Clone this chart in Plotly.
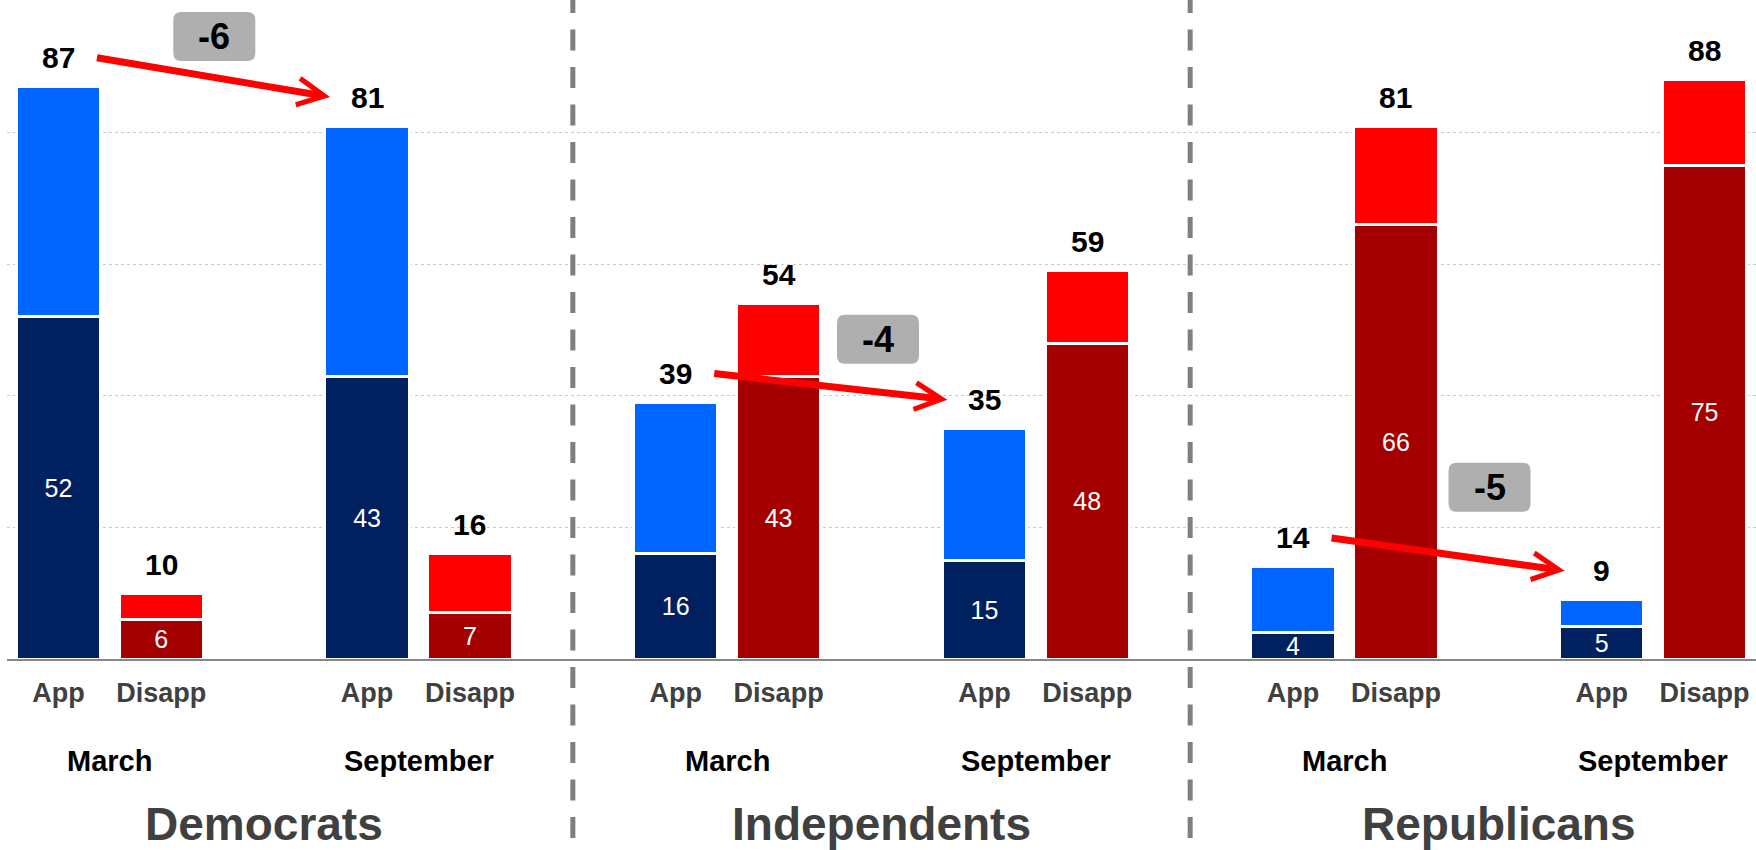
import plotly.graph_objects as go

# ---------------- data ----------------
parties = ["Democrats", "Independents", "Republicans"]
months = ["March", "September"]
responses = ["App", "Disapp"]

# order inside each party: March App, March Disapp, September App, September Disapp
dem_total = [87, 10, 81, 16]
dem_strong = [52, 6, 43, 7]
ind_total = [39, 54, 35, 59]
ind_strong = [16, 43, 15, 48]
rep_total = [14, 81, 9, 88]
rep_strong = [4, 66, 5, 75]

totals = [dem_total, ind_total, rep_total]
strongs = [dem_strong, ind_strong, rep_strong]

# ---------------- style ----------------
FONT = "Liberation Sans, Arial, sans-serif"
DARK = {"App": "#002060", "Disapp": "#A50000"}
LIGHT = {"App": "#0066FF", "Disapp": "#FF0000"}
GREY_TXT = "#404040"
PLOT_H = 658
LABEL_SHIFT = 29

xs, tot, strong, rest, dcol, lcol, ticktext = [], [], [], [], [], [], []
for g in range(len(parties)):
    for m in range(len(months)):
        for r, resp in enumerate(responses):
            i = m * 2 + r
            xs.append(g * 6 + m * 3 + r)
            tot.append(totals[g][i])
            strong.append(strongs[g][i])
            rest.append(totals[g][i] - strongs[g][i])
            dcol.append(DARK[resp])
            lcol.append(LIGHT[resp])
            ticktext.append(resp)

fig = go.Figure()
fig.add_trace(go.Bar(
    x=xs, y=strong, width=0.82,
    marker=dict(color=dcol, line=dict(color="white", width=3)),
    text=[str(v) for v in strong], textposition="inside",
    insidetextanchor="middle", textangle=0,
    textfont=dict(family=FONT, size=25, color="white"),
    hoverinfo="skip",
))
fig.add_trace(go.Bar(
    x=xs, y=rest, width=0.82,
    marker=dict(color=lcol, line=dict(color="white", width=3)),
    hoverinfo="skip",
))

annotations = []
# totals above bars
for xv, t in zip(xs, tot):
    annotations.append(dict(
        x=xv, y=t, xref="x", yref="y", text=str(t), showarrow=False,
        yanchor="middle", yshift=LABEL_SHIFT,
        font=dict(family=FONT, size=30, color="black", weight="bold"),
    ))

# arrows from March approval to September approval + delta boxes
box_pos = [(1.515, 94.6), (7.966, 48.6), (13.91, 26.1)]
shapes = []
BW, BH, R = 82, 49, 8
box_path = (f"M {-BW/2+R},{-BH/2} L {BW/2-R},{-BH/2} Q {BW/2},{-BH/2} {BW/2},{-BH/2+R} "
            f"L {BW/2},{BH/2-R} Q {BW/2},{BH/2} {BW/2-R},{BH/2} L {-BW/2+R},{BH/2} "
            f"Q {-BW/2},{BH/2} {-BW/2},{BH/2-R} L {-BW/2},{-BH/2+R} Q {-BW/2},{-BH/2} {-BW/2+R},{-BH/2} Z")
for g in range(len(parties)):
    xm = g * 6
    xsep = g * 6 + 3
    tm = totals[g][0]
    ts = totals[g][2]
    annotations.append(dict(
        x=xsep - 0.36, y=ts, ax=xm + 0.36, ay=tm,
        xref="x", yref="y", axref="x", ayref="y",
        text="", showarrow=True, arrowhead=5, arrowsize=0.75, arrowwidth=7,
        arrowcolor="#FF0000", standoff=0, startstandoff=0, yshift=LABEL_SHIFT,
    ))
    bx, by = box_pos[g]
    shapes.append(dict(
        type="path", xref="x", yref="y", xsizemode="pixel", ysizemode="pixel",
        xanchor=bx, yanchor=by, path=box_path,
        fillcolor="#AFAFAF", line=dict(width=0), layer="above",
    ))
    annotations.append(dict(
        x=bx, y=by, xref="x", yref="y", text=f"{ts - tm:d}", showarrow=False,
        font=dict(family=FONT, size=36, color="black", weight="bold"),
    ))

# month labels and party titles
for g, party in enumerate(parties):
    for m, month in enumerate(months):
        annotations.append(dict(
            x=g * 6 + m * 3 + 0.5, y=0, xref="x", yref="paper",
            text=month, showarrow=False, yanchor="middle", yshift=-102,
            font=dict(family=FONT, size=29, color="black", weight="bold"),
        ))
    annotations.append(dict(
        x=g * 6 + 2, y=0, xref="x", yref="paper",
        text=party, showarrow=False, yanchor="middle", yshift=-165,
        font=dict(family=FONT, size=46, color=GREY_TXT, weight="bold"),
    ))

# dashed separators between parties
for g in range(1, len(parties)):
    xd = g * 6 - 1
    shapes.append(dict(
        type="line", xref="x", yref="paper", x0=xd, x1=xd,
        y0=1 + 9 / PLOT_H, y1=-200 / PLOT_H,
        line=dict(color="#7F7F7F", width=5, dash="21px,16.5px"), layer="above",
    ))

fig.update_layout(
    width=1756, height=850,
    margin=dict(l=7, r=0, t=1, b=191),
    barmode="stack", showlegend=False,
    plot_bgcolor="white", paper_bgcolor="white",
    uniformtext=dict(minsize=25, mode="show"),
    annotations=annotations, shapes=shapes,
    xaxis=dict(range=[-0.5, 16.5], tickvals=xs, ticktext=ticktext,
               showgrid=False, showline=True, linecolor="#868686", linewidth=2,
               ticks="", zeroline=False, ticklabelstandoff=9,
               tickfont=dict(family=FONT, size=27, color=GREY_TXT, weight="bold")),
    yaxis=dict(range=[0, 100], tickvals=[0, 20, 40, 60, 80, 100],
               showticklabels=False, showgrid=True, gridcolor="#C8C8C8",
               griddash="dot", gridwidth=1, zeroline=False, showline=False),
)

fig.write_html(
    "out.html",
    config={"displayModeBar": False},
    post_script="document.body.style.margin='0px';document.body.style.overflow='hidden';",
)
